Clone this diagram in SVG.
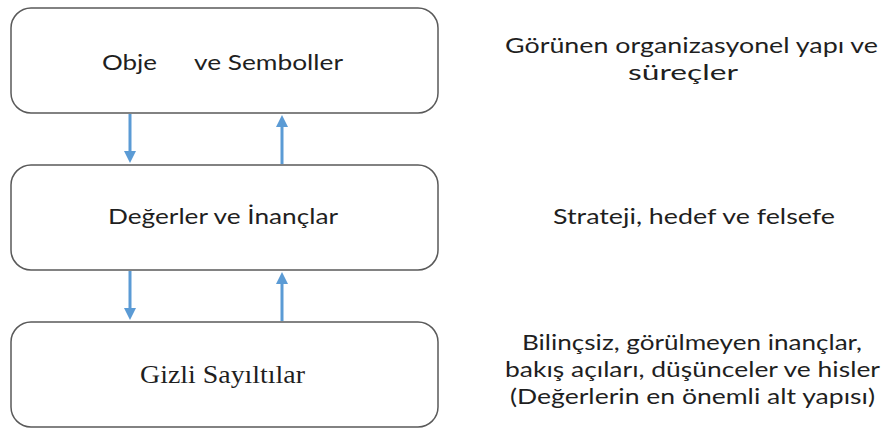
<svg xmlns="http://www.w3.org/2000/svg" width="890" height="429" viewBox="0 0 890 429">
<style>
.box{fill:#fff;stroke:#5a5a5a;stroke-width:1.5}
.sans{font-family:Lato,"Open Sans","Liberation Sans",sans-serif;font-size:22px;fill:#1f1f1f}
.serif{font-family:"Liberation Serif",serif;font-size:25px;fill:#1f1f1f}
.arr{stroke:#5b9bd5;stroke-width:3;fill:none}
</style>
<defs>
<marker id="ah" markerWidth="4" markerHeight="4" refX="2" refY="2" orient="auto" markerUnits="strokeWidth">
<path d="M0,0 L4,2 L0,4 z" fill="#5b9bd5"/>
</marker>
</defs>
<rect width="890" height="429" fill="#fff"/>
<g id="n1">
<rect class="box" x="11" y="8" width="427" height="105" rx="20"/>
<text class="sans" x="102" y="70" textLength="55" lengthAdjust="spacingAndGlyphs">Obje</text>
<text class="sans" x="194" y="70" textLength="149" lengthAdjust="spacingAndGlyphs">ve Semboller</text>
</g>
<g id="n2">
<rect class="box" x="11" y="165" width="427" height="105" rx="20"/>
<text class="sans" x="108" y="224" textLength="230" lengthAdjust="spacingAndGlyphs">Değerler ve İnançlar</text>
</g>
<g id="n3">
<rect class="box" x="11" y="322" width="427" height="105" rx="20"/>
<text class="serif" x="140" y="383" textLength="165" lengthAdjust="spacingAndGlyphs">Gizli Sayıltılar</text>
</g>
<g id="labels" class="sans">
<text x="505" y="53" textLength="373" lengthAdjust="spacingAndGlyphs">Görünen organizasyonel yapı ve</text>
<text x="628" y="80" textLength="110" lengthAdjust="spacingAndGlyphs">süreçler</text>
<text x="553" y="224" textLength="282" lengthAdjust="spacingAndGlyphs">Strateji, hedef ve felsefe</text>
<text x="522" y="350" textLength="340" lengthAdjust="spacingAndGlyphs">Bilinçsiz, görülmeyen inançlar,</text>
<text x="505" y="377" textLength="375" lengthAdjust="spacingAndGlyphs">bakış açıları, düşünceler ve hisler</text>
<text x="510" y="404" textLength="365" lengthAdjust="spacingAndGlyphs">(Değerlerin en önemli alt yapısı)</text>
</g>
<g id="connectors">
<line class="arr" x1="130" y1="114" x2="130" y2="157" marker-end="url(#ah)"/>
<line class="arr" x1="282" y1="164" x2="282" y2="121" marker-end="url(#ah)"/>
<line class="arr" x1="130" y1="271" x2="130" y2="314" marker-end="url(#ah)"/>
<line class="arr" x1="282" y1="321" x2="282" y2="278" marker-end="url(#ah)"/>
</g>
</svg>
